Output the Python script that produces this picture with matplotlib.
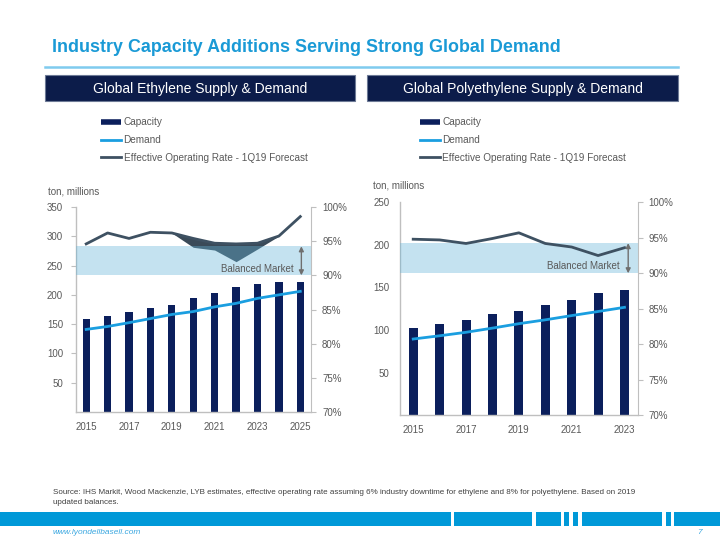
import numpy as np
import matplotlib
matplotlib.use("Agg")
import matplotlib.pyplot as plt
from matplotlib.patches import Rectangle
from matplotlib.lines import Line2D
from matplotlib.ticker import FuncFormatter

plt.rcParams['font.family'] = ['Liberation Sans', 'DejaVu Sans']

# ---------------- data ----------------
eth_years = [2015, 2016, 2017, 2018, 2019, 2020, 2021, 2022, 2023, 2024, 2025]
eth_capacity = [159, 164, 171, 178, 183, 195, 203, 214, 219, 222, 222]
eth_demand = [141, 146, 152.5, 159.5, 166.5, 171.5, 179.5, 185.5, 194, 200, 206]
eth_rate = [94.6, 96.2, 95.4, 96.3, 96.2, 95.4, 94.7, 94.6, 94.7, 95.75, 98.6]
eth_rate_low = [None, None, None, None, 96.2, 94.1, 93.7, 92.0, 93.85, 95.75, None]

pe_years = [2015, 2016, 2017, 2018, 2019, 2020, 2021, 2022, 2023]
pe_capacity = [102, 107, 112, 118.5, 122.5, 129.5, 135.5, 143, 147]
pe_demand = [89.5, 93.3, 97.4, 102.3, 107.5, 112, 117, 121.8, 126.7]
pe_rate = [94.8, 94.7, 94.2, 94.9, 95.7, 94.2, 93.7, 92.5, 93.6]

balanced_band = (90.0, 94.25)

title = "Industry Capacity Additions Serving Strong Global Demand"
eth_header = "Global Ethylene Supply & Demand"
pe_header = "Global Polyethylene Supply & Demand"
legend_labels = ["Capacity", "Demand", "Effective Operating Rate - 1Q19 Forecast"]
source_text = ("Source: IHS Markit, Wood Mackenzie, LYB estimates, effective operating rate assuming 6% "
               "industry downtime for ethylene and 8% for polyethylene. Based on 2019\nupdated balances.")

# ---------------- styles ----------------
NAVY = '#0b1f5c'
DEMAND = '#1a9ee0'
RATE = '#3e5162'
FILL_DARK = '#3a4a58'
BAND = '#66b5d8'
TICKC = '#595959'
SPINE = '#bfbfbf'
W, H = 720, 540

fig = plt.figure(figsize=(7.2, 5.4), dpi=100)
fig.patch.set_facecolor('white')

def fx(x):
    return x / W

def fy(y):
    return 1 - y / H

def px_axes(l, t, r, b):
    return fig.add_axes([fx(l), fy(b), (r - l) / W, (b - t) / H])

# title + rule
fig.text(fx(52), fy(47), title, color='#1a9ad6', fontsize=12.9, fontweight='bold', va='center', ha='left')
fig.add_artist(Line2D([fx(45), fx(678)], [fy(66.7), fy(66.7)], color='#7fcbee', lw=1.8))

# header boxes
for (l, r, txt) in [(45, 355, eth_header), (367, 678, pe_header)]:
    fig.add_artist(Rectangle((fx(l), fy(100.7)), (r - l) / W, 25.7 / H, transform=fig.transFigure,
                             facecolor='#0c1c4a', edgecolor='#6d7a96', lw=0.8))
    fig.text(fx((l + r) / 2), fy(88.5), txt, color='white', fontsize=10, ha='center', va='center')

def draw_chart(ax_rect, years, cap, dem, rate, rate_low, ymax, yticks, leg_x, ton_xy,
               arrow_x, text_x, left_ticks):
    ax = px_axes(*ax_rect)
    x = np.arange(len(years))
    ax.bar(x, cap, width=0.34, color=NAVY, zorder=2)
    ax.plot(x, dem, color=DEMAND, lw=2, zorder=3)
    ax.set_xlim(-0.5, len(years) - 0.5)
    ax.set_ylim(0, ymax)
    ax.set_yticks(yticks)
    ax.set_xticks(x[::2])
    ax.set_xticklabels([str(y) for y in years[::2]])
    for s in ['top', 'right']:
        ax.spines[s].set_visible(False)
    for s in ['left', 'bottom']:
        ax.spines[s].set_color(SPINE)
        ax.spines[s].set_linewidth(1.0)
    if left_ticks:
        ax.tick_params(axis='y', length=3.5, width=0.8, color=SPINE, pad=5.5, labelsize=7, labelcolor=TICKC)
    else:
        ax.tick_params(axis='y', length=0, pad=7.7, labelsize=7, labelcolor=TICKC)
    ax.tick_params(axis='x', length=0, pad=7, labelsize=7, labelcolor=TICKC)

    ax2 = ax.twinx()
    ax2.set_ylim(70, 100)
    ax2.set_yticks([70, 75, 80, 85, 90, 95, 100])
    ax2.yaxis.set_major_formatter(FuncFormatter(lambda v, p: f"{int(v)}%"))
    for s in ['top', 'left', 'bottom']:
        ax2.spines[s].set_visible(False)
    ax2.spines['right'].set_color(SPINE)
    ax2.tick_params(axis='y', length=3.5, width=0.8, color=SPINE, pad=4.5, labelsize=7, labelcolor=TICKC)

    if rate_low is not None:
        lo = np.array([np.nan if v is None else v for v in rate_low], dtype=float)
        mask = ~np.isnan(lo)
        ax2.fill_between(x[mask], np.array(rate)[mask], lo[mask], color=FILL_DARK, lw=0, zorder=1)
    ax2.axhspan(balanced_band[0], balanced_band[1], color=BAND, alpha=0.38, lw=0, zorder=2)
    ax2.plot(x, rate, color=RATE, lw=2, zorder=3)
    ax2.annotate('', xy=(arrow_x, balanced_band[1]), xytext=(arrow_x, balanced_band[0]),
                 arrowprops=dict(arrowstyle='<|-|>', color='#6f6f6f', lw=1.0,
                                 mutation_scale=7, shrinkA=0, shrinkB=0), zorder=4)
    ax2.text(text_x, 91.0, 'Balanced Market', ha='right', va='center', fontsize=7, color=TICKC, zorder=4)

    handles = [Line2D([], [], color=NAVY, lw=4, solid_capstyle='butt'),
               Line2D([], [], color=DEMAND, lw=2),
               Line2D([], [], color=RATE, lw=2)]
    fig.legend(handles, legend_labels, loc='upper left', bbox_to_anchor=(fx(leg_x), fy(117.3)),
               frameon=False, fontsize=7.2, handlelength=1.95, handletextpad=0.3, labelspacing=0.78,
               borderpad=0, borderaxespad=0, labelcolor=TICKC)
    fig.text(fx(ton_xy[0]), fy(ton_xy[1]), 'ton, millions', fontsize=7, color=TICKC, ha='left', va='center')
    return ax, ax2

draw_chart((75.5, 207, 311, 412), eth_years, eth_capacity, eth_demand, eth_rate, eth_rate_low,
           350, [50, 100, 150, 200, 250, 300, 350], 101, (47.5, 191.5), 10.05, 9.71, True)
draw_chart((400, 202.3, 637.7, 415.25), pe_years, pe_capacity, pe_demand, pe_rate, None,
           250, [50, 100, 150, 200, 250], 420, (372.5, 185), 8.14, 7.83, False)

# source
fig.text(fx(53), fy(489.5), source_text, fontsize=5.75, color='#404040', ha='left', va='top', linespacing=1.55)

# footer band
segments = [(0, 450.7), (454.3, 531.7), (535.7, 561), (564.3, 569), (573.3, 578.3),
            (582.3, 661.7), (665.7, 670.7), (674.3, 720)]
for a, b in segments:
    fig.add_artist(Rectangle((fx(a), fy(525.7)), (b - a) / W, 14 / H, transform=fig.transFigure,
                             facecolor='#0099d8', edgecolor='none'))
fig.text(fx(53), fy(532.5), 'www.lyondellbasell.com', fontsize=6, color='#3aa7e0', style='italic',
         ha='left', va='center')
fig.text(fx(697), fy(532), '7', fontsize=6, color='#3aa7e0', style='italic', ha='left', va='center')

fig.savefig('out.png', dpi=100)
